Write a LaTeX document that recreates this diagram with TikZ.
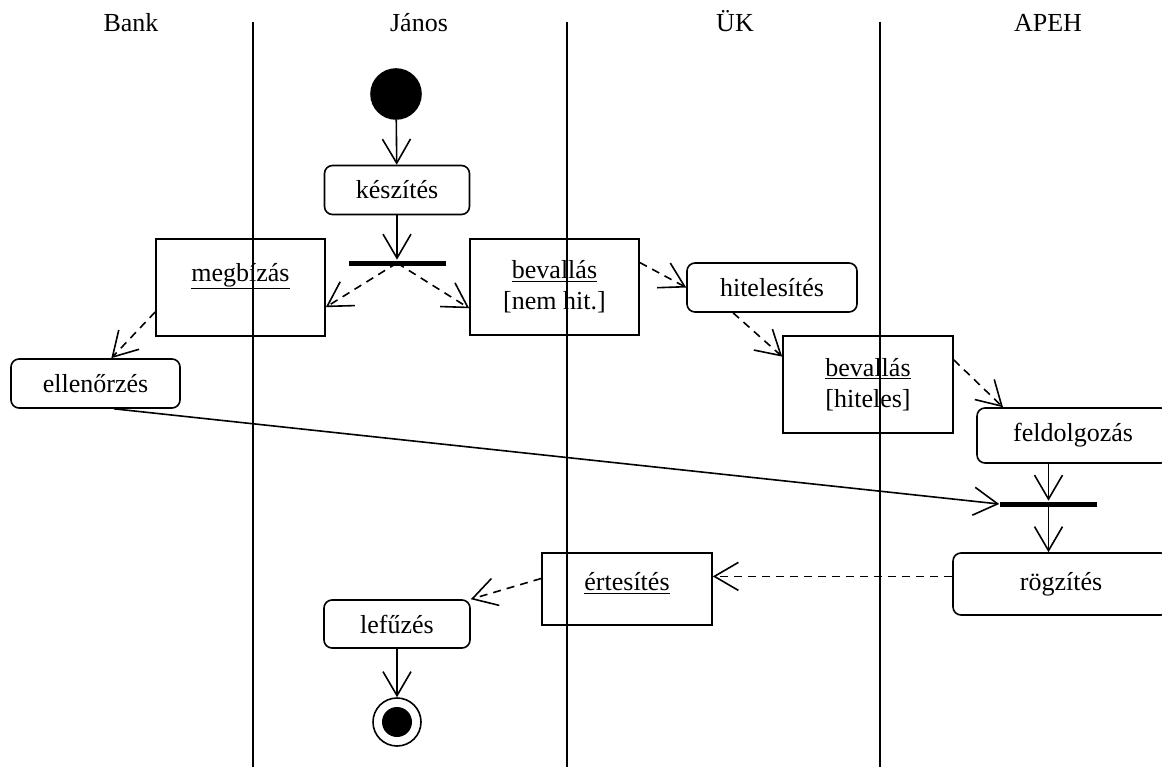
\documentclass[tikz,border=0pt]{standalone}
\usepackage{fontspec}
\setmainfont{Liberation Serif}
\usetikzlibrary{arrows.meta}
\begin{document}
\begin{tikzpicture}[x=0.75pt,y=-0.75pt,line width=1.2pt]
    \tikzstyle{every node}=[font=\fontsize{19.5}{23}\selectfont]
    \tikzstyle{act}=[draw,rectangle,rounded corners=6pt,inner sep=0pt,minimum width=127.5pt,minimum height=36.75pt]
    \tikzstyle{obj}=[draw,rectangle,inner sep=0pt,align=center,minimum width=127.5pt,minimum height=72.75pt]
    \tikzstyle{bar}=[fill,rectangle,inner sep=0pt,minimum width=72.75pt,minimum height=3.75pt]
    \tikzstyle{lane}=[anchor=base]
    \tikzstyle{flow}=[-{Straight Barb[length=18pt,width=21pt]}]
    \tikzstyle{dep}=[flow,dash pattern=on 6pt off 4.5pt]
    \clip (0,0) rectangle (1162,767);
    % swimlanes
    \node[lane] (bank) at (131,32) {Bank};
    \node[lane] (janos) at (419,32) {János};
    \node[lane] (uk) at (735,32) {ÜK};
    \node[lane] (apeh) at (1048,32) {APEH};
    \foreach \x in {253,567,880}
      \draw (\x,22) -- (\x,767);
    % nodes
    \node[draw,circle,fill,minimum size=37.5pt,inner sep=0pt] (start) at (396,94) {};
    \node[act,minimum width=108.75pt] (keszites) at (397,190) {készítés};
    \node[bar] (fork) at (397,263) {};
    \node[obj,minimum width=126.75pt] (megbizas) at (240.5,287.5) {\underline{megbízás}\\\mbox{}};
    \node[obj,minimum width=126.75pt,minimum height=72pt] (bevallas1) at (554.5,287) {\underline{bevallás}\\{[nem hit.]}};
    \node[act] (hitelesites) at (772,287.5) {hitelesítés};
    \node[obj] (bevallas2) at (868,384.5) {\underline{bevallás}\\{[hiteles]}};
    \node[act,minimum width=126.75pt] (ellenorzes) at (95.5,383.5) {ellenőrzés};
    \node[act,minimum width=144pt,minimum height=41.25pt] (feldolgozas) at (1073,435.5) {feldolgozás};
    \node[bar] (join) at (1048.5,504) {};
    \node[act,minimum width=162pt,minimum height=46.5pt] (rogzites) at (1061,584) {rögzítés};
    \node[obj,minimum height=54pt] (ertesites) at (627,589) {\underline{értesítés}\\[-12pt]\mbox{}};
    \node[act,minimum width=109.5pt,minimum height=36pt] (lefuzes) at (397,624) {lefűzés};
    \node[draw,circle,minimum size=36pt,inner sep=0pt] (end) at (397,722) {};
    \fill (end.center) circle[radius=11.25pt];
    % connectors
    \draw[flow] (start) -- (keszites);
    \draw[flow] (keszites) -- (fork);
    \draw[dep] (fork.center) -- (megbizas.-13);
    \draw[dep] (fork.center) -- (bevallas1.194);
    \draw[dep] (bevallas1.16) -- (hitelesites.west);
    \draw[dep] (hitelesites.213) -- (bevallas2.162);
    \draw[dep] (bevallas2.16) -- (feldolgozas.158);
    \draw[dep] (megbizas.196) -- (ellenorzes.58);
    \draw[flow] (ellenorzes.-54) -- (join.west);
    \draw[flow] (feldolgozas.south -| join.north) -- (join.north);
    \draw[flow] (join.south) -- (join.south |- rogzites.north);
    \draw[dep] (rogzites.176) -- (rogzites.176 -| ertesites.east);
    \draw[dep] (ertesites.173) -- (lefuzes.north east);
    \draw[flow] (lefuzes) -- (end);
\end{tikzpicture}
\end{document}
